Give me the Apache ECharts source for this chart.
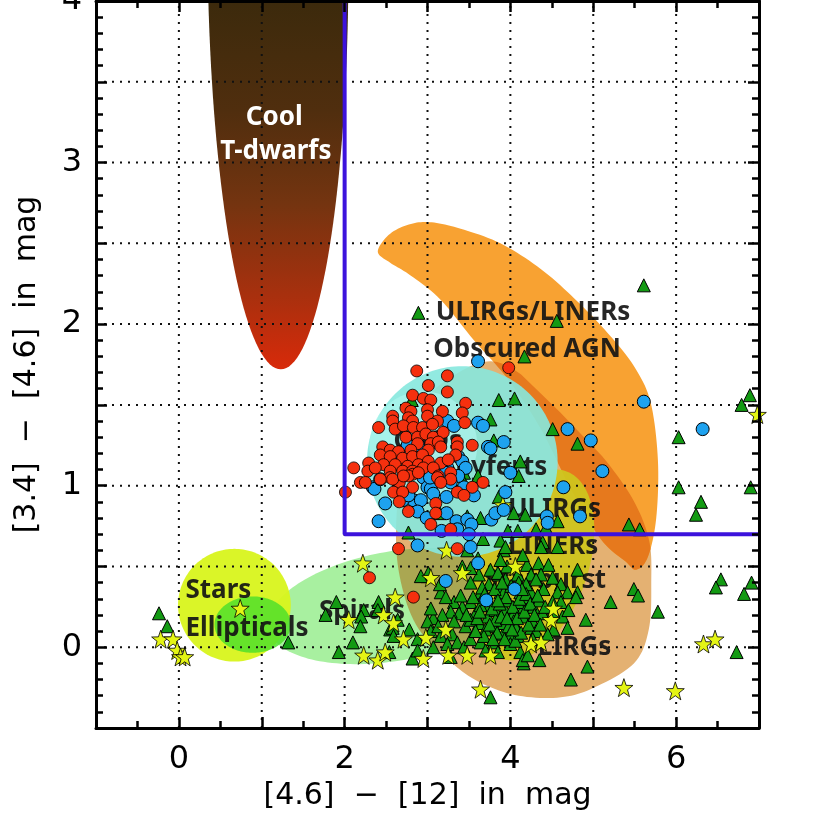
<!DOCTYPE html>
<html>
<head>
<meta charset="utf-8">
<script src="https://cdn.jsdelivr.net/npm/echarts@6/dist/echarts.min.js"></script>
<style>
	html, body { margin: 0; padding: 0; background: #fff; }
	#chart { width: 830px; height: 830px; }
</style>
</head>
<body>
<div id="chart"></div>
<script>
// region outlines, all in axis units
// ellipse: [x1, y1, x2, y2, halfWidth] = ends of the long axis + half width (x units)
const tDwarfRegion = [1.16, 6.92, 1.23, 1.72, 0.85]
const spiralRegion = [1.08, 0.12, 4.12, 0.39, 0.66]
const starburstRegion = [4.67, 1.09, 3.88, -0.07, 0.66]
const starRegion = [-0.01, 0.26, 1.35, 0.26, 0.68]
const ellipticalRegion = [0.43, 0.14, 1.35, 0.14, 0.34]
const seyfertRegion = [2.27, 1.15, 4.57, 1.15, 1.15]
const qsoRegion = [2.3, 1.25, 3.6, 1.25, 0.65]
// outlines: corner points of a closed smooth curve
const lirgsRegion = [
	[3.76, 1.77], [3.34, 1.69], [2.98, 1.53], [2.74, 1.22], [2.63, 0.85], [2.65, 0.48], [2.86, 0.14], [3.28, -0.09],
	[3.64, -0.22], [4.10, -0.30], [4.61, -0.31], [5.01, -0.25], [5.49, -0.10], [5.67, 0.11], [5.70, 0.40], [5.67, 0.67],
	[5.45, 0.94], [5.03, 1.23], [4.61, 1.45], [4.15, 1.68],
]
const obscuredAgnRegion = [
	[2.40, 2.45], [2.55, 2.56], [2.80, 2.62], [3.05, 2.63], [3.40, 2.59], [3.88, 2.50], [4.37, 2.34], [4.81, 2.14],
	[5.20, 1.93], [5.49, 1.74], [5.69, 1.52], [5.78, 1.16], [5.76, 0.80], [5.66, 0.56], [5.52, 0.48], [5.39, 0.53],
	[5.09, 0.67], [4.73, 0.98], [4.37, 1.35], [3.97, 1.66], [3.56, 1.90], [3.16, 2.15], [2.80, 2.30], [2.55, 2.38],
]

// dotted grid positions
const gridX = [0, 1, 2, 3, 4, 5, 6]
const gridY = [0, 0.5, 1, 1.5, 2, 2.5, 3, 3.5]

// region names [x, y, text]
const regionLabels = [
	[3.10, 2.07, "ULIRGs/LINERs"], [3.07, 1.84, "Obscured AGN"], [2.59, 1.27, "QSOs"],
	[3.17, 1.11, "Seyferts"], [3.97, 0.85, "ULIRGs"], [3.97, 0.62, "LINERs"],
	[3.68, 0.41, "Starburst"], [4.33, 0.0, "LIRGs"], [0.08, 0.35, "Stars"],
	[0.08, 0.115, "Ellipticals"], [1.69, 0.22, "Spirals"],
]
const tDwarfLabels = [[1.15, 3.28, "Cool"], [1.17, 3.07, "T-dwarfs"]]

// AGN wedge
const agnBoxLine = [[2, 4], [2, 0.7], [7, 0.7]]

// red circles
const qsoPoints = [
	[2.87, 1.71], [3.24, 1.68], [3.01, 1.62], [3.24, 1.58], [2.82, 1.56], [2.95, 1.54], [3.04, 1.53], [3.46, 1.51], [2.74, 1.48], [2.80, 1.46],
	[3.00, 1.47], [3.18, 1.46], [3.42, 1.45], [2.58, 1.43], [2.77, 1.42], [3.00, 1.43], [2.58, 1.40], [2.82, 1.40], [3.12, 1.40], [3.45, 1.39],
	[2.41, 1.36], [2.61, 1.35], [2.71, 1.37], [2.83, 1.36], [2.94, 1.36], [3.06, 1.38], [2.74, 1.30], [2.88, 1.30], [2.98, 1.32], [3.07, 1.30],
	[3.19, 1.33], [2.88, 1.26], [3.04, 1.26], [3.13, 1.27], [3.36, 1.27], [3.54, 1.25], [2.46, 1.24], [2.55, 1.22], [2.65, 1.21], [2.80, 1.22],
	[3.01, 1.22], [3.16, 1.24], [3.36, 1.24], [2.43, 1.19], [2.55, 1.18], [2.70, 1.17], [2.82, 1.18], [2.94, 1.19], [3.34, 1.19], [2.29, 1.14],
	[2.47, 1.13], [2.61, 1.13], [2.76, 1.12], [2.89, 1.13], [3.01, 1.15], [3.16, 1.14], [3.25, 1.16], [2.11, 1.11], [2.28, 1.09], [2.37, 1.11],
	[2.55, 1.09], [2.70, 1.09], [2.82, 1.09], [2.95, 1.11], [3.07, 1.11], [2.82, 1.07], [2.55, 1.05], [2.19, 1.02], [2.25, 1.02], [2.43, 1.04],
	[2.66, 1.02], [2.77, 1.06], [3.13, 1.06], [3.28, 1.08], [3.28, 1.04], [3.67, 1.02], [3.54, 0.99], [2.58, 1.04], [2.71, 1.06], [2.89, 1.08],
	[3.12, 1.05], [3.16, 1.02], [2.82, 0.99], [2.59, 0.96], [2.70, 0.96], [3.36, 0.96], [3.44, 0.94], [2.66, 0.90], [2.77, 0.84], [3.10, 0.89],
	[3.10, 0.83], [3.04, 0.76], [3.28, 0.73], [2.01, 0.96], [2.65, 0.61], [3.36, 0.61], [2.30, 0.43], [2.83, 0.31], [3.98, 1.73],
]

// blue circles
const seyfertPoints = [
	[3.61, 1.77], [5.61, 1.52], [6.32, 1.35], [4.69, 1.35], [4.97, 1.28], [5.11, 1.09], [4.64, 0.99], [4.84, 0.81], [4.44, 0.81], [4.45, 0.77],
	[3.24, 1.40], [3.32, 1.37], [3.61, 1.39], [3.67, 1.37], [3.73, 1.24], [3.92, 1.27], [4.00, 1.08], [3.94, 0.96],
	[2.89, 1.25], [2.76, 1.25], [2.64, 1.19], [3.37, 1.18], [3.42, 1.15], [3.46, 1.11], [3.24, 1.11], [3.16, 1.11], [2.95, 1.05], [2.34, 0.99],
	[2.36, 0.98], [2.43, 1.04], [3.00, 0.99], [3.44, 0.99], [3.19, 1.04], [3.22, 1.08], [3.37, 1.06], [3.04, 0.98], [2.83, 0.91], [2.70, 0.91],
	[2.49, 0.89], [2.77, 0.94], [2.92, 0.91], [3.07, 0.95], [3.23, 0.93], [3.56, 0.94], [2.41, 0.78], [2.88, 0.84], [2.99, 0.80], [3.23, 0.83],
	[3.35, 0.78], [3.48, 0.79], [3.53, 0.76], [3.36, 0.73], [3.17, 0.72], [3.50, 0.70], [3.77, 0.79], [3.82, 0.83], [3.92, 0.85], [2.88, 0.63],
	[3.52, 0.62], [3.61, 0.52], [3.22, 0.41], [3.71, 0.29], [4.05, 0.36], [3.03, 1.05], [3.28, 1.02], [3.76, 1.23],
]

// green triangles
const galaxyPoints = [
	[5.61, 2.24], [2.89, 2.07], [4.56, 2.02], [4.17, 1.80], [2.81, 1.53], [3.86, 1.53], [4.05, 1.54], [3.76, 1.41], [4.51, 1.35], [4.81, 1.26],
	[3.80, 1.28], [4.12, 1.15], [4.10, 1.06], [3.61, 1.06], [3.44, 1.08], [3.44, 1.02], [6.03, 0.99], [6.03, 1.30], [5.43, 0.76], [5.56, 0.73],
	[4.57, 0.78], [4.18, 0.82], [4.04, 0.83], [3.64, 0.80], [3.97, 0.72], [4.31, 0.73], [4.43, 0.74], [3.88, 0.66], [3.92, 0.60], [4.39, 0.65],
	[4.57, 0.62], [4.81, 0.48], [3.67, 0.67], [2.77, 0.71], [6.89, 1.56], [6.79, 1.50], [6.90, 0.99], [6.30, 0.90], [6.24, 0.82], [6.54, 0.42],
	[6.48, 0.37], [6.91, 0.40], [6.82, 0.33], [5.49, 0.36], [5.54, 0.32], [5.21, 0.28], [5.78, 0.22], [6.73, -0.03], [4.93, -0.12], [4.73, -0.20],
	[4.16, -0.10], [4.35, -0.08], [3.76, -0.31], [4.91, 0.17], [4.63, 0.19], [4.51, 0.23], [3.86, 0.93], [3.48, 0.81], [3.15, 0.83],
	[3.96, 0.50], [4.09, 0.45], [4.20, 0.51], [4.34, 0.52], [4.46, 0.51], [4.25, 0.45], [4.37, 0.45], [4.51, 0.43], [4.61, 0.39], [4.69, 0.34],
	[4.57, 0.34], [4.81, 0.34], [4.79, 0.31], [4.61, 0.28], [4.70, 0.23], [4.52, 0.22], [4.69, 0.12], [4.52, 0.11], [4.25, 0.12], [4.09, 0.07],
	[4.45, 0.08], [4.12, -0.03], [4.15, -0.08], [4.21, -0.05], [3.88, 0.34], [3.86, 0.45], [3.74, 0.39], [3.62, 0.45], [3.52, 0.40], [3.64, 0.34],
	[3.52, 0.28], [3.42, 0.25], [3.32, 0.28], [3.38, 0.21], [3.28, 0.22], [3.18, 0.20], [3.07, 0.18], [3.00, 0.16], [3.04, 0.10], [3.16, 0.07],
	[3.30, 0.08], [3.24, 0.02], [3.36, 0.03], [3.07, 0.00], [3.28, -0.06], [3.44, 0.00], [3.52, 0.05], [3.64, 0.03], [3.80, 0.03], [3.91, 0.08],
	[4.00, 0.07], [3.80, 0.13], [3.92, 0.15], [3.62, 0.15], [3.73, 0.19], [3.58, 0.21], [3.70, 0.26], [3.82, 0.23], [3.94, 0.23], [4.04, 0.21],
	[4.15, 0.19], [4.27, 0.16], [4.16, 0.25], [4.28, 0.25], [4.34, 0.29], [4.21, 0.31], [4.09, 0.28], [4.04, 0.16], [3.97, 0.29], [3.92, 0.34],
	[4.12, 0.34], [4.25, 0.34], [4.40, 0.36], [4.51, 0.28], [4.39, 0.21], [4.31, 0.10], [3.85, -0.03], [3.32, 0.16], [3.46, 0.13], [3.00, 0.44],
	[3.16, 0.34], [3.01, 0.46], [3.82, 0.17], [3.70, 0.11], [4.07, 0.12], [3.52, 0.17], [3.94, 0.42], [4.19, 0.39], [4.31, 0.42], [3.76, 0.48],
	[3.88, 0.54], [3.64, 0.26], [3.40, 0.32], [4.00, 0.02], [3.70, -0.02], [2.92, 0.44], [3.22, 0.31], [3.13, 0.13], [2.78, 0.11], [2.88, 0.05],
	[2.82, -0.07], [3.42, 0.50], [3.85, 0.46], [3.94, 0.62], [4.15, 0.57], [4.37, 0.62], [2.55, 0.11], [3.04, 0.24], [4.09, 0.72], [3.48, 0.60],
	[3.61, 0.55], [3.52, 0.49], [3.15, 0.39],
	[3.55, 0.31], [3.60, 0.18], [3.66, 0.37], [3.68, 0.07], [3.72, 0.30], [3.75, 0.14], [3.78, 0.24], [3.81, 0.36], [3.84, 0.09], [3.87, 0.27],
	[3.89, 0.19], [3.93, 0.05], [3.95, 0.31], [3.98, 0.13], [4.01, 0.38], [4.03, 0.25], [4.06, 0.04], [4.08, 0.18], [4.11, 0.30], [4.13, 0.09],
	[4.17, 0.22], [4.19, 0.33], [4.22, 0.14], [4.24, 0.27], [4.29, 0.20], [4.33, 0.32], [4.36, 0.14], [4.42, 0.25], [3.58, 0.10], [3.63, 0.22],
	[3.79, 0.05], [3.90, 0.40], [4.10, 0.40], [4.27, 0.05], [3.47, 0.20], [3.69, 0.33], [3.85, 0.29], [4.02, 0.11], [4.14, 0.36], [3.96, 0.18],
	[-0.24, 0.21], [-0.14, 0.13], [1.32, 0.03], [1.90, 0.28], [1.77, 0.20], [2.23, 0.23], [2.20, 0.19], [2.19, 0.13], [2.10, 0.03], [1.93, -0.03],
	[2.41, 0.28], [2.40, 0.23], [2.64, 0.17], [2.58, 0.12], [2.59, 0.07], [2.54, -0.03], [2.88, -0.02],
]

// yellow stars
const starPoints = [
	[-0.22, 0.05], [-0.07, 0.05], [-0.02, -0.02], [0.02, -0.06], [0.07, -0.06], [0.74, 0.24], [2.22, 0.52], [2.05, 0.17], [2.61, 0.31], [2.47, 0.20],
	[2.59, 0.15], [2.71, 0.05], [2.23, -0.05], [2.40, -0.08], [2.49, -0.03], [3.23, 0.60], [4.06, 0.50], [2.98, 0.06], [2.95, -0.07], [3.22, 0.11],
	[3.25, -0.05], [3.48, -0.05], [3.76, -0.05], [4.49, 0.17], [4.25, 0.02], [4.37, 0.03], [3.64, -0.26], [5.37, -0.25], [5.99, -0.27], [3.04, 0.43],
	[3.42, 0.46], [4.52, 0.24], [3.91, 0.88], [6.33, 0.02], [6.47, 0.05], [6.98, 1.44],
]

const axisFont = "'DejaVu Sans', sans-serif"
const labelFont = "'Noto Sans', 'Open Sans', sans-serif"
const starSymbol = "path://M0,-50L11.8,-16.2L47.6,-15.5L19,6.2L29.4,40.5L0,20L-29.4,40.5L-19,6.2L-47.6,-15.5L-11.8,-16.2Z"

// drawing order of the shaded regions; "within" = only the part inside the LIRG outline
const regionList = [
	{ outline: lirgsRegion, fill: "#e4b172" },
	{ outline: obscuredAgnRegion, fill: "#f8a232" },
	{ outline: obscuredAgnRegion, within: lirgsRegion, fill: "#e6791d" },
	{ axis: spiralRegion, fill: "#a8f0a0" },
	{ axis: spiralRegion, within: lirgsRegion, fill: "#aaa752" },
	{ axis: starburstRegion, fill: "#cfc41e", opacity: 0.95 },
	{ axis: starRegion, fill: "#d8f41c", opacity: 0.95 },
	{ axis: ellipticalRegion, fill: "#50df2a", opacity: 0.85 },
	{ axis: seyfertRegion, fill: "#86e8de", opacity: 0.9 },
	{ axis: qsoRegion, fill: "#aef5ee", opacity: 0.7 },
	{ axis: tDwarfRegion, gradient: true },
]

const ellipseOutline = (api, e) => {
	const p1 = api.coord([e[0], e[1]])
	const p2 = api.coord([e[2], e[3]])
	const b = api.size([e[4], 0])[0]
	const cx = (p1[0] + p2[0]) / 2
	const cy = (p1[1] + p2[1]) / 2
	const a = Math.hypot(p2[0] - p1[0], p2[1] - p1[1]) / 2
	const th = Math.atan2(p2[1] - p1[1], p2[0] - p1[0])
	let pts = []
	for (let i = 0; i < 160; i++) {
		const t = (i / 160) * Math.PI * 2
		const u = a * Math.cos(t)
		const v = b * Math.sin(t)
		pts.push([cx + u * Math.cos(th) - v * Math.sin(th), cy + u * Math.sin(th) + v * Math.cos(th)])
	}
	return pts
}

// closed Catmull-Rom curve through the outline corners
const smoothOutline = (api, outline) => {
	const p = outline.map((d) => api.coord(d))
	const n = p.length
	let pts = []
	for (let i = 0; i < n; i++) {
		const p0 = p[(i - 1 + n) % n], p1 = p[i], p2 = p[(i + 1) % n], p3 = p[(i + 2) % n]
		for (let s = 0; s < 10; s++) {
			const t = s / 10, t2 = t * t, t3 = t2 * t
			const f = (k) => 0.5 * (2 * p1[k] + (p2[k] - p0[k]) * t + (2 * p0[k] - 5 * p1[k] + 4 * p2[k] - p3[k]) * t2 + (3 * p1[k] - p0[k] - 3 * p2[k] + p3[k]) * t3)
			pts.push([f(0), f(1)])
		}
	}
	return pts
}

const shapePoints = (api, r) => (r.outline ? smoothOutline(api, r.outline) : ellipseOutline(api, r.axis))

// Sutherland-Hodgman, clip polygon should be convex
const clipPolygon = (subject, clip) => {
	let area = 0
	for (let i = 0; i < clip.length; i++) {
		const a = clip[i], b = clip[(i + 1) % clip.length]
		area += a[0] * b[1] - b[0] * a[1]
	}
	const sgn = area > 0 ? 1 : -1
	let out = subject
	for (let i = 0; i < clip.length && out.length; i++) {
		const a = clip[i], b = clip[(i + 1) % clip.length]
		const inside = (p) => sgn * ((b[0] - a[0]) * (p[1] - a[1]) - (b[1] - a[1]) * (p[0] - a[0])) >= 0
		const cut = (p, q) => {
			const dx = q[0] - p[0], dy = q[1] - p[1]
			const ex = b[0] - a[0], ey = b[1] - a[1]
			const t = ((a[0] - p[0]) * ey - (a[1] - p[1]) * ex) / (dx * ey - dy * ex)
			return [p[0] + t * dx, p[1] + t * dy]
		}
		const input = out
		out = []
		for (let j = 0; j < input.length; j++) {
			const cur = input[j], prev = input[(j - 1 + input.length) % input.length]
			if (inside(cur)) {
				if (!inside(prev)) out.push(cut(prev, cur))
				out.push(cur)
			} else if (inside(prev)) {
				out.push(cut(prev, cur))
			}
		}
	}
	return out
}

const renderRegion = (params, api) => {
	const r = regionList[params.dataIndex]
	let points = shapePoints(api, r)
	if (r.within) points = clipPolygon(points, smoothOutline(api, r.within))
	let style = { fill: r.fill, opacity: r.opacity == null ? 1 : r.opacity }
	if (r.gradient) {
		const y0 = api.coord([0, 4])[1]
		const y1 = api.coord([0, r.axis[3]])[1]
		style = {
			fill: new echarts.graphic.LinearGradient(0, y0, 0, y1, [
				{ offset: 0, color: "#3c2a0c" },
				{ offset: 0.3, color: "#502e0e" },
				{ offset: 0.55, color: "#743410" },
				{ offset: 0.8, color: "#a8300e" },
				{ offset: 1, color: "#d82a0a" },
			], true),
		}
	}
	return { type: "polygon", shape: { points: points }, style: style }
}

// dotted grid drawn above the shaded regions
const gridLines = gridX.map((v) => [v, 0]).concat(gridY.map((v) => [v, 1]))
const renderGrid = (params, api) => {
	const g = gridLines[params.dataIndex]
	const p1 = g[1] === 0 ? api.coord([g[0], -0.5]) : api.coord([-1, g[0]])
	const p2 = g[1] === 0 ? api.coord([g[0], 4]) : api.coord([7, g[0]])
	return {
		type: "line",
		shape: { x1: p1[0], y1: p1[1], x2: p2[0], y2: p2[1] },
		style: { stroke: "#111", lineWidth: 2, lineDash: [2, 6] },
	}
}

const makeLabelRenderer = (list, color, align) => (params, api) => {
	const item = list[params.dataIndex]
	const p = api.coord([item[0], item[1]])
	return {
		type: "text",
		x: p[0],
		y: p[1],
		style: {
			text: item[2],
			fill: color,
			font: "bold 26px " + labelFont,
			align: align,
			verticalAlign: "middle",
		},
	}
}

const baseAxis = (extra) => Object.assign({
	type: "value",
	z: 20,
	axisLine: { onZero: false, lineStyle: { color: "#000", width: 3 } },
	axisTick: { inside: true, length: 11, lineStyle: { color: "#000", width: 2.5 } },
	splitLine: { show: false },
	axisLabel: { show: false },
}, extra)

let chart = echarts.init(document.getElementById("chart"), null, { renderer: "canvas" })
let option = {
	animation: false,
	backgroundColor: "#fff",
	grid: { left: 96, right: 71, top: 1, bottom: 102, containLabel: false, outerBoundsMode: "none" },
	xAxis: [
		baseAxis({
			min: -1, max: 7, interval: 1, position: "bottom",
			minorTick: { show: true, splitNumber: 2, length: 7, lineStyle: { color: "#000", width: 2.5 } },
			axisLabel: {
				show: true, margin: 16, fontSize: 32, color: "#000", fontFamily: axisFont,
				formatter: (v) => (v >= 0 && v <= 6 && v % 2 === 0 ? String(v) : ""),
			},
			name: "[4.6]  −  [12]  in  mag",
			nameLocation: "middle",
			nameGap: 52,
			nameTextStyle: { fontSize: 30, color: "#000", fontFamily: axisFont },
		}),
		baseAxis({
			min: -1, max: 7, interval: 1, position: "top",
			minorTick: { show: true, splitNumber: 2, length: 7, lineStyle: { color: "#000", width: 2.5 } },
		}),
	],
	yAxis: [
		baseAxis({
			min: -0.5, max: 4, interval: 0.5, position: "left",
			minorTick: { show: true, splitNumber: 5, length: 7, lineStyle: { color: "#000", width: 2.5 } },
			axisLabel: {
				show: true, margin: 14, fontSize: 32, color: "#000", fontFamily: axisFont,
				formatter: (v) => (Number.isInteger(v) ? String(v) : ""),
			},
			name: "[3.4]  −  [4.6]  in  mag",
			nameLocation: "middle",
			nameGap: 54,
			nameTextStyle: { fontSize: 30, color: "#000", fontFamily: axisFont },
		}),
		baseAxis({
			min: -0.5, max: 4, interval: 0.5, position: "right",
			minorTick: { show: true, splitNumber: 5, length: 7, lineStyle: { color: "#000", width: 2.5 } },
		}),
	],
	series: [
		{
			type: "custom",
			z: 1,
			silent: true,
			clip: true,
			renderItem: renderRegion,
			data: regionList.map((r, i) => [i, 0]),
		},
		{
			type: "custom",
			z: 2,
			silent: true,
			renderItem: renderGrid,
			data: gridLines.map((g, i) => [i, 0]),
		},
		{
			type: "custom",
			z: 3,
			silent: true,
			renderItem: makeLabelRenderer(regionLabels, "rgba(20,20,20,0.92)", "left"),
			data: regionLabels.map((l) => [l[0], l[1]]),
		},
		{
			type: "custom",
			z: 3,
			silent: true,
			renderItem: makeLabelRenderer(tDwarfLabels, "#fff", "center"),
			data: tDwarfLabels.map((l) => [l[0], l[1]]),
		},
		{
			type: "scatter",
			z: 4,
			data: galaxyPoints,
			symbol: "triangle",
			symbolSize: 13,
			itemStyle: { color: "#139a13", borderColor: "#000", borderWidth: 1, opacity: 1 },
		},
		{
			type: "scatter",
			z: 5,
			data: starPoints,
			symbol: starSymbol,
			symbolSize: 18,
			itemStyle: { color: "#e4f515", borderColor: "#000", borderWidth: 0.8, opacity: 1 },
		},
		{
			type: "scatter",
			z: 6,
			data: seyfertPoints,
			symbol: "circle",
			symbolSize: 13,
			itemStyle: { color: "#1ea2ef", borderColor: "#000", borderWidth: 1, opacity: 1 },
		},
		{
			type: "scatter",
			z: 7,
			data: qsoPoints,
			symbol: "circle",
			symbolSize: 12,
			itemStyle: { color: "#f5300e", borderColor: "#000", borderWidth: 0.8, opacity: 1 },
		},
		{
			type: "line",
			z: 8,
			data: agnBoxLine,
			showSymbol: false,
			symbol: "none",
			lineStyle: { color: "#3c12dc", width: 4 },
		},
	],
}
chart.setOption(option)
</script>
</body>
</html>
